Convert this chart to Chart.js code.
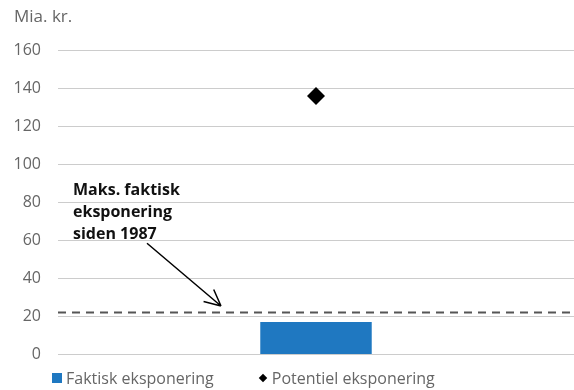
<!DOCTYPE html>
<html>
<head>
<meta charset="utf-8">
<script src="https://cdn.jsdelivr.net/npm/chart.js@4"></script>
<style>
  html, body { margin: 0; padding: 0; background: #fff; overflow: hidden; }
  #wrap { position: relative; width: 574px; height: 390px; }
  #box { position: absolute; left: 0; top: 0; width: 574px; height: 381px; }
  #box canvas { display: block; }
  #legend { position: absolute; left: 52px; top: 366px; height: 24px; display: flex; align-items: center;
            font: 16px "Open Sans", sans-serif; color: #666; white-space: nowrap; }
  #legend .item { display: flex; align-items: center; }
  #legend .item + .item { margin-left: 45px; }
  #legend .mk { margin-right: 4px; }
</style>
</head>
<body>
<div id="wrap">
  <div id="box"><canvas id="chart1"></canvas></div>
  <div id="legend"></div>
</div>
<script>
const labels = [''];
const faktisk = [17];
const potentiel = [136];
const maksFaktisk = 22;
const yTicks = [0, 20, 40, 60, 80, 100, 120, 140, 160];
const noteLines = ['Maks. faktisk', 'eksponering', 'siden 1987'];

const blue = '#1f78c1';
const grey = '#666666';
const font = '"Open Sans", Lato, sans-serif';

const notePlugin = {
    id: 'note',
    afterDatasetsDraw(chart) {
        const { ctx, chartArea: a, scales: { y } } = chart;
        ctx.save();
        // dashed line for max actual exposure
        const yl = y.getPixelForValue(maksFaktisk);
        ctx.strokeStyle = '#555';
        ctx.lineWidth = 2;
        ctx.setLineDash([8, 6]);
        ctx.beginPath();
        ctx.moveTo(a.left, yl);
        ctx.lineTo(a.right, yl);
        ctx.stroke();
        ctx.setLineDash([]);

        // text
        ctx.fillStyle = '#111';
        ctx.font = 'bold 16px ' + font;
        ctx.textBaseline = 'middle';
        const y0 = y.getPixelForValue(86.5);
        noteLines.forEach((t, i) => ctx.fillText(t, a.left + 15, y0 + i * 22));

        // arrow
        const x1 = a.left + 89, y1 = y.getPixelForValue(58.5);
        const x2 = a.left + 163, y2 = y.getPixelForValue(25.5);
        ctx.strokeStyle = '#000';
        ctx.lineWidth = 1.5;
        ctx.beginPath();
        ctx.moveTo(x1, y1);
        ctx.lineTo(x2, y2);
        const ang = Math.atan2(y2 - y1, x2 - x1);
        const L = 18;
        ctx.moveTo(x2, y2);
        ctx.lineTo(x2 - L * Math.cos(ang - 0.45), y2 - L * Math.sin(ang - 0.45));
        ctx.moveTo(x2, y2);
        ctx.lineTo(x2 - L * Math.cos(ang + 0.45), y2 - L * Math.sin(ang + 0.45));
        ctx.stroke();
        ctx.restore();
    }
};

const cfg1 = {
    type: 'bar',
    data: {
        labels: labels,
        datasets: [
            { label: 'Faktisk eksponering', data: faktisk, backgroundColor: blue,
              barPercentage: 0.216, categoryPercentage: 1, order: 2 },
            { type: 'line', label: 'Potentiel eksponering', data: potentiel, showLine: false,
              pointStyle: 'rectRot', pointRadius: 9, pointHoverRadius: 9,
              backgroundColor: '#000', borderColor: '#000', borderWidth: 0, order: 1 }
        ]
    },
    options: {
        responsive: true,
        maintainAspectRatio: false,
        animation: false,
        // chart area runs a bit past the right edge, so the category centre sits where it does in the original
        layout: { autoPadding: false, padding: { left: 14, right: -8, top: 0, bottom: 9 } },
        plugins: {
            title: { display: true, text: 'Mia. kr.', align: 'start', color: grey,
                     font: { family: font, size: 17, weight: 'normal' }, padding: { top: 7, bottom: 23 } },
            legend: { display: false },
            tooltip: { enabled: false }
        },
        scales: {
            x: { display: false, grid: { display: false } },
            y: {
                min: 0, max: 160,
                afterBuildTicks: s => { s.ticks = yTicks.map(v => ({ value: v })); },
                afterFit: s => { s.width = 44; },
                border: { display: false },
                grid: { color: '#cccccc', lineWidth: 1, drawTicks: false },
                ticks: { color: grey, font: { family: font, size: 16 }, padding: 17 }
            }
        }
    },
    plugins: [notePlugin]
};

const chart1 = new Chart(document.getElementById('chart1').getContext('2d'), cfg1);

// legend built from the chart's datasets
const marks = [
    '<span class="mk" style="display:inline-block;width:10px;height:10px;background:' + blue + '"></span>',
    '<span class="mk" style="display:inline-block;width:6px;height:6px;background:#000;transform:rotate(45deg);margin-right:6px;margin-left:1px"></span>'
];
document.getElementById('legend').innerHTML = chart1.data.datasets
    .map((d, i) => '<span class="item">' + marks[i] + '<span>' + d.label + '</span></span>').join('');
</script>
</body>
</html>
